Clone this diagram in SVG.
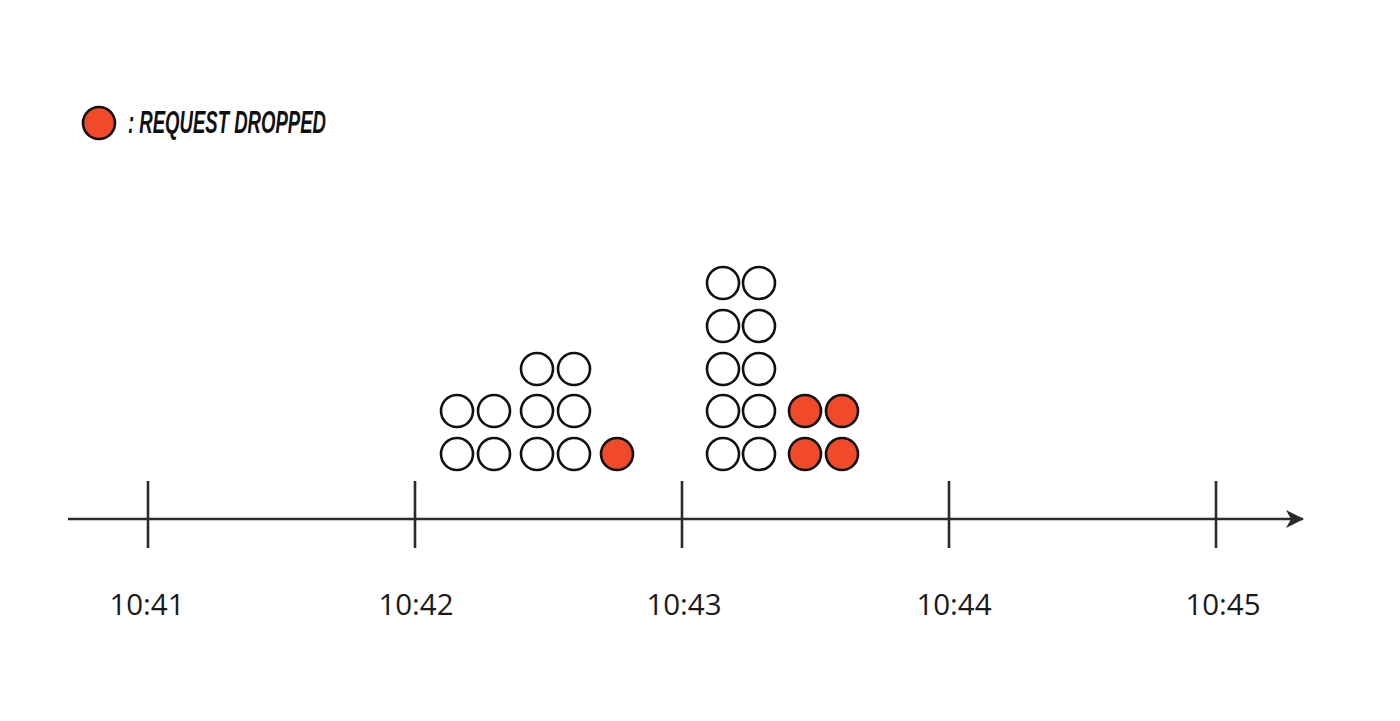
<svg xmlns="http://www.w3.org/2000/svg" width="1400" height="721" viewBox="0 0 1400 721">
<style>
.c{fill:#fff;stroke:#111;stroke-width:2.6}
.r{fill:#f04a2a;stroke:#111;stroke-width:2.6}
.ax{stroke:#2b2b2b;stroke-width:2.6;fill:none}
.lbl{font-family:"Open Sans","Noto Sans",sans-serif;font-size:29.5px;fill:#1a1a1a;text-anchor:middle}
.leg{font-family:"Liberation Sans",sans-serif;font-weight:bold;font-style:italic;font-size:32px;fill:#111}
</style>
<defs>
<marker id="arr" markerWidth="20" markerHeight="20" refX="17" refY="9" orient="auto" markerUnits="userSpaceOnUse" viewBox="0 0 20 18">
<path d="M0,0 L18,9 L0,18 L5,9 Z" fill="#2b2b2b"/>
</marker>
</defs>
<rect width="1400" height="721" fill="#fff"/>
<g id="legend">
<circle class="r" cx="99" cy="123" r="16"/>
<text class="leg" x="128" y="133" textLength="198" lengthAdjust="spacingAndGlyphs">: REQUEST DROPPED</text>
</g>
<g id="connectors">
<line class="ax" x1="68" y1="519" x2="1303" y2="519" marker-end="url(#arr)"/>
<line class="ax" x1="148" y1="481" x2="148" y2="548"/>
<line class="ax" x1="415" y1="481" x2="415" y2="548"/>
<line class="ax" x1="682" y1="481" x2="682" y2="548"/>
<line class="ax" x1="949" y1="481" x2="949" y2="548"/>
<line class="ax" x1="1216" y1="481" x2="1216" y2="548"/>
</g>
<g id="labels">
<text class="lbl" x="147" y="615">10:41</text>
<text class="lbl" x="416" y="615">10:42</text>
<text class="lbl" x="684" y="615">10:43</text>
<text class="lbl" x="954" y="615">10:44</text>
<text class="lbl" x="1223" y="615">10:45</text>
</g>
<g id="group-1042">
<circle class="c" cx="537" cy="369" r="16"/>
<circle class="c" cx="574" cy="369" r="16"/>
<circle class="c" cx="457" cy="411" r="16"/>
<circle class="c" cx="494" cy="411" r="16"/>
<circle class="c" cx="537" cy="411" r="16"/>
<circle class="c" cx="574" cy="411" r="16"/>
<circle class="c" cx="457" cy="454" r="16"/>
<circle class="c" cx="494" cy="454" r="16"/>
<circle class="c" cx="537" cy="454" r="16"/>
<circle class="c" cx="574" cy="454" r="16"/>
<circle class="r" cx="617" cy="454" r="16"/>
</g>
<g id="group-1043">
<circle class="c" cx="723" cy="283" r="16"/>
<circle class="c" cx="759" cy="283" r="16"/>
<circle class="c" cx="723" cy="326" r="16"/>
<circle class="c" cx="759" cy="326" r="16"/>
<circle class="c" cx="723" cy="369" r="16"/>
<circle class="c" cx="759" cy="369" r="16"/>
<circle class="c" cx="723" cy="411" r="16"/>
<circle class="c" cx="759" cy="411" r="16"/>
<circle class="r" cx="805" cy="411" r="16"/>
<circle class="r" cx="842" cy="411" r="16"/>
<circle class="c" cx="723" cy="454" r="16"/>
<circle class="c" cx="759" cy="454" r="16"/>
<circle class="r" cx="805" cy="454" r="16"/>
<circle class="r" cx="842" cy="454" r="16"/>
</g>
</svg>
